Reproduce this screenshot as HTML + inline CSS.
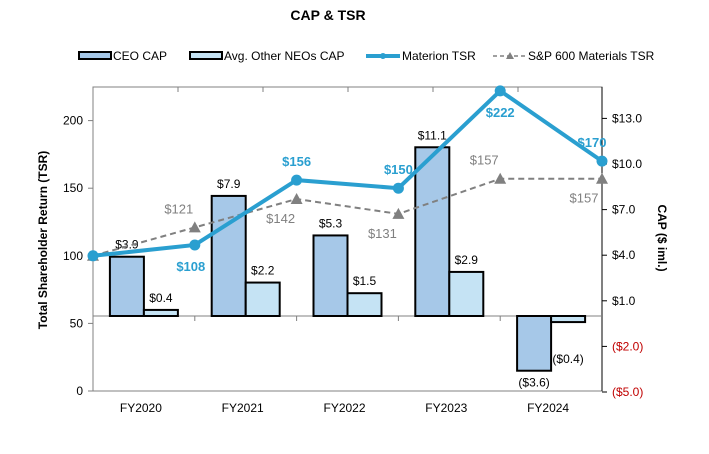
<!DOCTYPE html>
<html><head><meta charset="utf-8"><style>
body{margin:0;background:#fff;}
svg{display:block;font-family:"Liberation Sans",Arial,sans-serif;}
</style></head><body>
<svg id="c" width="709" height="454" viewBox="0 0 709 454">
<text x="328" y="20" text-anchor="middle" font-size="14" font-weight="bold">CAP &amp; TSR</text>
<g font-size="12">
 <g><rect x="79" y="52" width="32" height="7" fill="#a6c8e8" stroke="#000" stroke-width="2"/><text x="113" y="60">CEO CAP</text></g>
 <g><rect x="190" y="52" width="32" height="7" fill="#c5e3f4" stroke="#000" stroke-width="2"/><text x="224" y="60">Avg. Other NEOs CAP</text></g>
 <g><line x1="366" y1="56" x2="400" y2="56" stroke="#2a9fd0" stroke-width="4"/><circle cx="383" cy="56" r="3" fill="#2a9fd0"/><text x="402" y="60">Materion TSR</text></g>
 <g><line x1="493" y1="56" x2="526" y2="56" stroke="#808080" stroke-width="1.5" stroke-dasharray="4,3"/><polygon points="506,59 510,52 514,59" fill="#808080"/><text x="528" y="60">S&amp;P 600 Materials TSR</text></g>
</g>
<g id="plot"></g>
<text transform="translate(47,240) rotate(-90)" text-anchor="middle" font-size="12" font-weight="bold">Total Shareholder Return (TSR)</text>
<text transform="translate(658,238) rotate(90)" text-anchor="middle" font-size="12" font-weight="bold">CAP ($ iml.)</text>
</svg>
<script>
const categories=["FY2020","FY2021","FY2022","FY2023","FY2024"];
const ceoCap=[3.9,7.9,5.3,11.1,-3.6];
const ceoLabels=["$3.9","$7.9","$5.3","$11.1","($3.6)"];
const neoCap=[0.4,2.2,1.5,2.9,-0.4];
const neoLabels=["$0.4","$2.2","$1.5","$2.9","($0.4)"];
const materion=[100,108,156,150,222,170];
const sp600=[100,121,142,131,157,157];
const materionLabelPos=["","below","above","above","below","above"];
const spLabelPos=["","above","below","below","above","below"];
const leftTicks=[0,50,100,150,200];
const rightTicks=[-5,-2,1,4,7,10,13];

const L=93,R=602,T=87,B=391;
const yL=v=>B-v*1.352;
const yR=v=>316-v*15.2;
const xC=i=>L+50.9+i*101.8;
const xP=i=>L+i*(R-L)/(materion.length-1);
const g=document.getElementById('plot');
const NS='http://www.w3.org/2000/svg';
function mk(t,a,p){const e=document.createElementNS(NS,t);for(const k in a)e.setAttribute(k,a[k]);(p||g).appendChild(e);return e;}

let e=mk('rect',{x:L,y:T,width:R-L,height:B-T,fill:'none',stroke:'#808080','stroke-width':1});


for(let k=1;k<6;k++){e=mk('line',{x1:L+k*85,y1:T,x2:L+k*85,y2:T+5,stroke:'#808080'});

}
leftTicks.forEach(v=>{
 e=mk('line',{x1:L-5,y1:yL(v),x2:L,y2:yL(v),stroke:'#808080'});
 
 
 e=mk('text',{x:L-10,y:yL(v)+4,'text-anchor':'end','font-size':12});e.textContent=v;
 
 
});
rightTicks.forEach(v=>{
 e=mk('line',{x1:R,y1:yR(v),x2:R+5,y2:yR(v),stroke:'#000'});
 
 
 e=mk('text',{x:R+10,y:yR(v)+4,'font-size':12,fill:v<0?'#c00000':'#000'});
 e.textContent=v<0?'($'+Math.abs(v).toFixed(1)+')':'$'+v.toFixed(1);
 
 
});
e=mk('line',{x1:R,y1:T,x2:R,y2:B,stroke:'#000'});


const z=yR(0);
e=mk('line',{x1:L,y1:z,x2:R,y2:z,stroke:'#808080'});


for(let k=1;k<materion.length-1;k++){e=mk('line',{x1:xP(k),y1:z,x2:xP(k),y2:z+5,stroke:'#808080'});

}
categories.forEach((c,i)=>{
 const cx=xC(i);
 const y1=yR(ceoCap[i]);
 e=mk('rect',{x:cx-34,y:Math.min(y1,z),width:34,height:Math.abs(z-y1),fill:'#a6c8e8',stroke:'#000','stroke-width':2});
 
 
 const y2=yR(neoCap[i]);
 e=mk('rect',{x:cx,y:Math.min(y2,z),width:34,height:Math.abs(z-y2),fill:'#c5e3f4',stroke:'#000','stroke-width':2});
 
 
 e=mk('text',{x:cx-17,y:ceoCap[i]>=0?y1-8:y1+16,'text-anchor':'middle','font-size':12});e.textContent=ceoLabels[i];
 
 
 e=mk('text',{x:cx+17,y:neoCap[i]>=0?y2-8:y2+41,'text-anchor':'middle','font-size':12});e.textContent=neoLabels[i];
 
 
 e=mk('text',{x:cx-3,y:412,'text-anchor':'middle','font-size':12});e.textContent=c;
 
 
});
e=mk('polyline',{points:sp600.map((v,i)=>xP(i)+','+yL(v)).join(' '),fill:'none',stroke:'#808080','stroke-width':2,'stroke-dasharray':'6,4'});


sp600.forEach((v,i)=>{
 const x=xP(i),y=yL(v);
 e=mk('polygon',{points:(x-6)+','+(y+5)+' '+x+','+(y-6)+' '+(x+6)+','+(y+5),fill:'#808080'});
 
 
 if(spLabelPos[i]){e=mk('text',{x:i==5?x-18:x-16,y:spLabelPos[i]=='above'?y-14:y+24,'text-anchor':'middle','font-size':13,fill:'#808080'});e.textContent='$'+v;
 
 }
});
e=mk('polyline',{points:materion.map((v,i)=>xP(i)+','+yL(v)).join(' '),fill:'none',stroke:'#2a9fd0','stroke-width':4});


materion.forEach((v,i)=>{
 const x=xP(i),y=yL(v);
 e=mk('circle',{cx:x,cy:y,r:5.5,fill:'#2a9fd0'});
 
 
 if(materionLabelPos[i]){e=mk('text',{x:i==1?x-4:(i==5?x-10:x),y:materionLabelPos[i]=='above'?y-14:y+26,'text-anchor':'middle','font-size':13,'font-weight':'bold',fill:'#2a9fd0'});e.textContent='$'+v;
 
 }
});
</script>
</body></html>
